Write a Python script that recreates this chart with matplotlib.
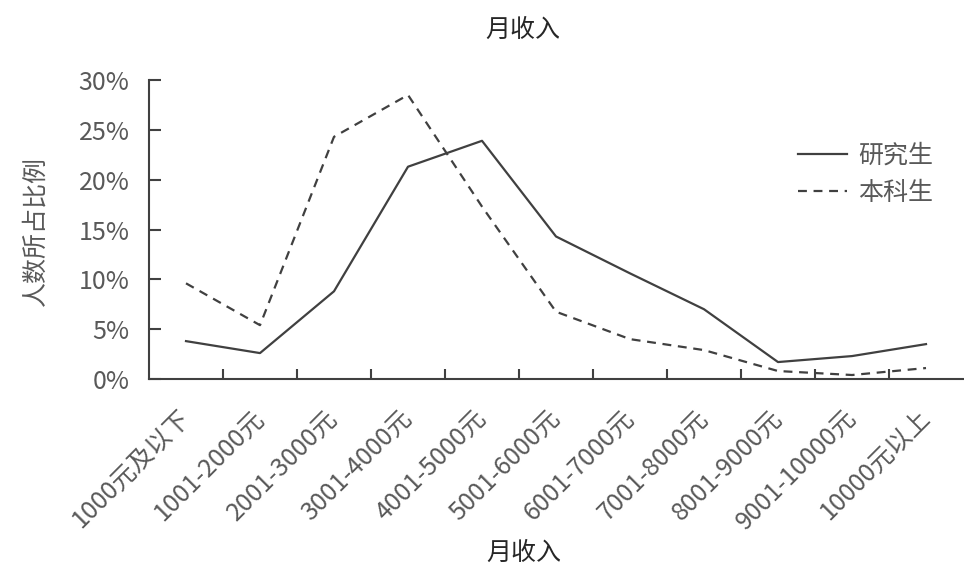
import matplotlib
matplotlib.use("Agg")
import matplotlib.pyplot as plt
from matplotlib.ticker import PercentFormatter, FixedLocator
from matplotlib.transforms import ScaledTranslation

plt.rcParams['font.family'] = ['Noto Sans CJK SC', 'DejaVu Sans']

categories = ["1000元及以下", "1001-2000元", "2001-3000元", "3001-4000元", "4001-5000元",
              "5001-6000元", "6001-7000元", "7001-8000元", "8001-9000元", "9001-10000元",
              "10000元以上"]
graduate = [3.8, 2.6, 8.8, 21.3, 23.9, 14.3, 10.6, 7.0, 1.7, 2.3, 3.5]
undergrad = [9.6, 5.4, 24.3, 28.5, 17.3, 6.75, 4.0, 2.9, 0.8, 0.4, 1.1]
series_names = ["研究生", "本科生"]
title_text = "月收入"
xlabel_text = "月收入"
ylabel_text = "人数所占比例"

W, H = 964, 573
fig = plt.figure(figsize=(W / 100, H / 100), dpi=100)
ax = fig.add_axes([149 / W, 1 - 379 / H, (963 - 149) / W, (379 - 80) / H])

line_color = "#404040"
text_color = "#595959"
fs = 18

x = list(range(len(categories)))
ax.plot(x, graduate, color=line_color, lw=1.6, ls='-', label=series_names[0])
ax.plot(x, undergrad, color=line_color, lw=1.6, ls=(0, (4, 3)), label=series_names[1])

ax.set_xlim(-0.5, len(categories) - 0.5)
ax.set_ylim(0, 30)
ax.yaxis.set_major_locator(FixedLocator([0, 5, 10, 15, 20, 25, 30]))
ax.yaxis.set_major_formatter(PercentFormatter(decimals=0))

ax.set_xticks(x)
ax.set_xticklabels(categories, rotation=45, ha='right', va='center', rotation_mode='anchor')
offset = ScaledTranslation(6 / 100, 0, fig.dpi_scale_trans)
for lbl in ax.get_xticklabels():
    lbl.set_transform(lbl.get_transform() + offset)
ax.set_xticks([i + 0.5 for i in range(len(categories) - 1)], minor=True)
ax.tick_params(axis='x', which='major', length=0, pad=25, labelsize=fs, labelcolor=text_color)
ax.tick_params(axis='x', which='minor', direction='in', length=7.5, width=1.5, color=line_color)
ax.tick_params(axis='y', which='major', direction='in', length=8.5, width=1.5, color=line_color,
               pad=14, labelsize=fs, labelcolor=text_color)

for s in ['top', 'right']:
    ax.spines[s].set_visible(False)
for s in ['left', 'bottom']:
    ax.spines[s].set_linewidth(1.5)
    ax.spines[s].set_color(line_color)

fig.text(523 / W, 1 - 30 / H, title_text, ha='center', va='center', fontsize=fs, color="#262626")
fig.text(524 / W, 1 - 553 / H, xlabel_text, ha='center', va='center', fontsize=fs, color="#262626")
fig.text(36 / W, 1 - 231 / H, ylabel_text, ha='center', va='center', rotation=90,
         fontsize=fs, color=text_color)

leg = ax.legend(loc='center left', bbox_to_anchor=(798 / W, 1 - 174 / H),
                bbox_transform=fig.transFigure, frameon=False, fontsize=fs,
                handlelength=1.95, handletextpad=0.45, labelspacing=0.45,
                borderpad=0, borderaxespad=0)
for t in leg.get_texts():
    t.set_color(text_color)

fig.savefig("out.png", dpi=100)
